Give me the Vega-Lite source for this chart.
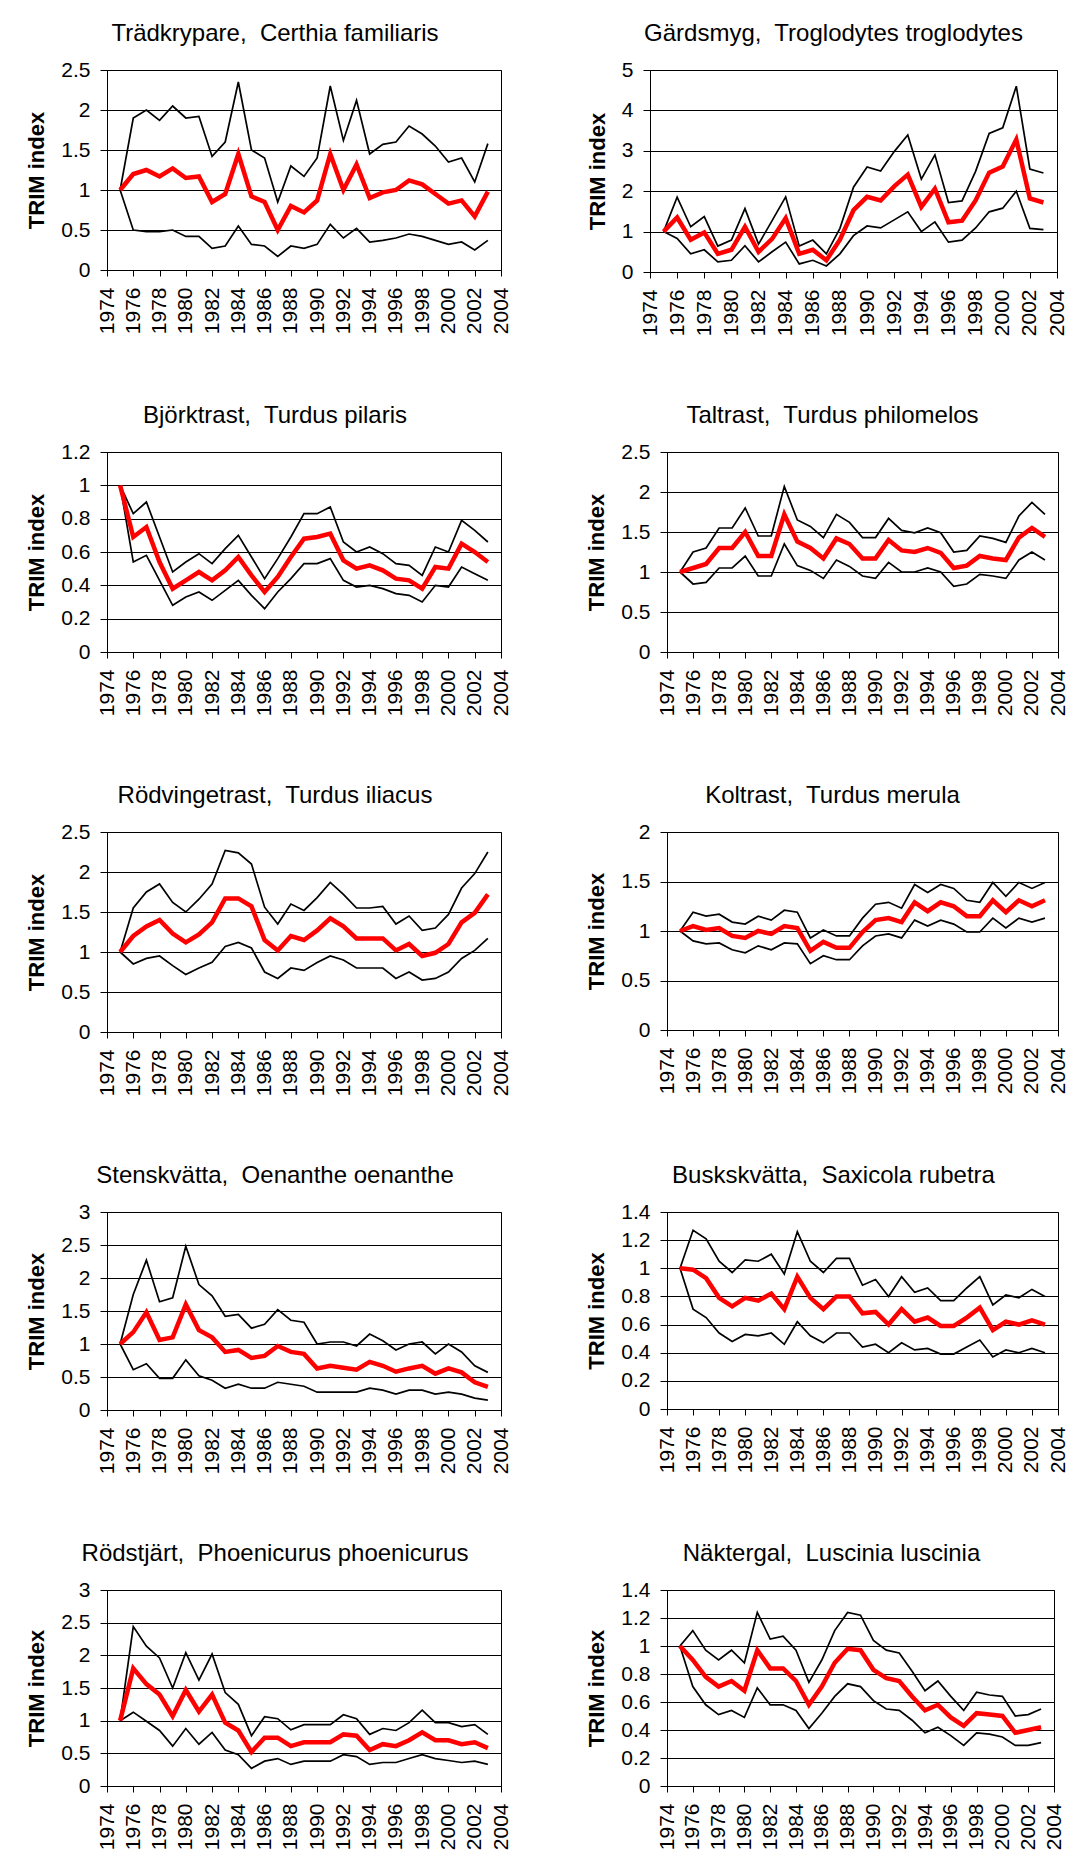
{
"$schema": "https://vega.github.io/schema/vega-lite/v6.json",
"background": "white",
"padding": {"left": 25, "top": 21, "right": 0, "bottom": 0},
"config": {
  "font": "Liberation Sans",
  "view": {"stroke": "black", "strokeWidth": 1},
  "title": {"font": "Liberation Sans", "fontSize": 24, "fontWeight": "normal", "color": "black", "anchor": "middle", "frame": "group", "offset": 13, "baseline": "alphabetic"},
  "axis": {"labelFont": "Liberation Sans", "labelFontSize": 21, "labelColor": "black", "domainColor": "black", "domainWidth": 1, "tickColor": "black", "tickWidth": 1, "titleFont": "Liberation Sans", "titleFontSize": 22, "titleFontWeight": "bold", "titleColor": "black", "labelFlush": false, "labelOverlap": false, "grid": false},
  "axisY": {"grid": true, "gridColor": "black", "gridWidth": 1, "gridOpacity": 1, "tickSize": 7, "labelPadding": 10, "titlePadding": 12},
  "axisX": {"labelAngle": -90, "tickSize": 6, "labelPadding": 11}
},
"datasets": {
"p1": [
{"year":1975,"lower":1.0,"index":1.0,"upper":1.0},{"year":1976,"lower":0.5,"index":1.2,"upper":1.9},{"year":1977,"lower":0.48,"index":1.25,"upper":2.0},{"year":1978,"lower":0.48,"index":1.17,"upper":1.87},{"year":1979,"lower":0.5,"index":1.27,"upper":2.05},{"year":1980,"lower":0.42,"index":1.15,"upper":1.9},{"year":1981,"lower":0.42,"index":1.17,"upper":1.92},{"year":1982,"lower":0.27,"index":0.85,"upper":1.42},{"year":1983,"lower":0.3,"index":0.95,"upper":1.6},{"year":1984,"lower":0.55,"index":1.45,"upper":2.35},{"year":1985,"lower":0.32,"index":0.92,"upper":1.5},{"year":1986,"lower":0.3,"index":0.85,"upper":1.4},{"year":1987,"lower":0.17,"index":0.5,"upper":0.85},{"year":1988,"lower":0.3,"index":0.8,"upper":1.3},{"year":1989,"lower":0.27,"index":0.72,"upper":1.17},{"year":1990,"lower":0.32,"index":0.87,"upper":1.4},{"year":1991,"lower":0.57,"index":1.45,"upper":2.3},{"year":1992,"lower":0.4,"index":1.0,"upper":1.62},{"year":1993,"lower":0.52,"index":1.32,"upper":2.12},{"year":1994,"lower":0.35,"index":0.9,"upper":1.45},{"year":1995,"lower":0.37,"index":0.97,"upper":1.57},{"year":1996,"lower":0.4,"index":1.0,"upper":1.6},{"year":1997,"lower":0.45,"index":1.12,"upper":1.8},{"year":1998,"lower":0.42,"index":1.07,"upper":1.7},{"year":1999,"lower":0.37,"index":0.95,"upper":1.55},{"year":2000,"lower":0.32,"index":0.83,"upper":1.35},{"year":2001,"lower":0.35,"index":0.87,"upper":1.4},{"year":2002,"lower":0.25,"index":0.67,"upper":1.1},{"year":2003,"lower":0.37,"index":0.98,"upper":1.58}
],
"p2": [
{"year":1975,"lower":1.0,"index":1.0,"upper":1.0},{"year":1976,"lower":0.83,"index":1.35,"upper":1.85},{"year":1977,"lower":0.45,"index":0.8,"upper":1.12},{"year":1978,"lower":0.55,"index":0.98,"upper":1.37},{"year":1979,"lower":0.25,"index":0.45,"upper":0.64},{"year":1980,"lower":0.29,"index":0.55,"upper":0.79},{"year":1981,"lower":0.65,"index":1.12,"upper":1.57},{"year":1982,"lower":0.25,"index":0.5,"upper":0.69},{"year":1983,"lower":0.5,"index":0.82,"upper":1.27},{"year":1984,"lower":0.74,"index":1.33,"upper":1.86},{"year":1985,"lower":0.2,"index":0.45,"upper":0.64},{"year":1986,"lower":0.29,"index":0.55,"upper":0.79},{"year":1987,"lower":0.15,"index":0.29,"upper":0.45},{"year":1988,"lower":0.45,"index":0.8,"upper":1.08},{"year":1989,"lower":0.9,"index":1.53,"upper":2.1},{"year":1990,"lower":1.14,"index":1.86,"upper":2.6},{"year":1991,"lower":1.09,"index":1.77,"upper":2.5},{"year":1992,"lower":1.29,"index":2.12,"upper":2.98},{"year":1993,"lower":1.49,"index":2.41,"upper":3.39},{"year":1994,"lower":1.0,"index":1.61,"upper":2.3},{"year":1995,"lower":1.24,"index":2.06,"upper":2.9},{"year":1996,"lower":0.74,"index":1.23,"upper":1.72},{"year":1997,"lower":0.79,"index":1.27,"upper":1.76},{"year":1998,"lower":1.09,"index":1.77,"upper":2.49},{"year":1999,"lower":1.49,"index":2.46,"upper":3.43},{"year":2000,"lower":1.58,"index":2.61,"upper":3.57},{"year":2001,"lower":2.0,"index":3.28,"upper":4.6},{"year":2002,"lower":1.08,"index":1.82,"upper":2.55},{"year":2003,"lower":1.05,"index":1.72,"upper":2.45}
],
"p3": [
{"year":1975,"lower":1.0,"index":1.0,"upper":1.0},{"year":1976,"lower":0.54,"index":0.69,"upper":0.83},{"year":1977,"lower":0.58,"index":0.75,"upper":0.9},{"year":1978,"lower":0.43,"index":0.54,"upper":0.69},{"year":1979,"lower":0.28,"index":0.38,"upper":0.48},{"year":1980,"lower":0.33,"index":0.43,"upper":0.54},{"year":1981,"lower":0.36,"index":0.48,"upper":0.59},{"year":1982,"lower":0.31,"index":0.43,"upper":0.53},{"year":1983,"lower":0.37,"index":0.49,"upper":0.62},{"year":1984,"lower":0.43,"index":0.57,"upper":0.7},{"year":1985,"lower":0.34,"index":0.46,"upper":0.57},{"year":1986,"lower":0.26,"index":0.36,"upper":0.44},{"year":1987,"lower":0.36,"index":0.45,"upper":0.56},{"year":1988,"lower":0.44,"index":0.57,"upper":0.69},{"year":1989,"lower":0.53,"index":0.68,"upper":0.83},{"year":1990,"lower":0.53,"index":0.69,"upper":0.83},{"year":1991,"lower":0.56,"index":0.71,"upper":0.87},{"year":1992,"lower":0.43,"index":0.55,"upper":0.66},{"year":1993,"lower":0.39,"index":0.5,"upper":0.6},{"year":1994,"lower":0.4,"index":0.52,"upper":0.63},{"year":1995,"lower":0.38,"index":0.49,"upper":0.59},{"year":1996,"lower":0.35,"index":0.44,"upper":0.53},{"year":1997,"lower":0.34,"index":0.43,"upper":0.52},{"year":1998,"lower":0.3,"index":0.38,"upper":0.46},{"year":1999,"lower":0.4,"index":0.51,"upper":0.63},{"year":2000,"lower":0.39,"index":0.5,"upper":0.6},{"year":2001,"lower":0.51,"index":0.65,"upper":0.79},{"year":2002,"lower":0.47,"index":0.6,"upper":0.73},{"year":2003,"lower":0.43,"index":0.54,"upper":0.66}
],
"p4": [
{"year":1975,"lower":1.0,"index":1.0,"upper":1.0},{"year":1976,"lower":0.85,"index":1.05,"upper":1.25},{"year":1977,"lower":0.87,"index":1.1,"upper":1.3},{"year":1978,"lower":1.05,"index":1.3,"upper":1.55},{"year":1979,"lower":1.05,"index":1.3,"upper":1.55},{"year":1980,"lower":1.2,"index":1.5,"upper":1.8},{"year":1981,"lower":0.95,"index":1.2,"upper":1.45},{"year":1982,"lower":0.95,"index":1.2,"upper":1.45},{"year":1983,"lower":1.35,"index":1.72,"upper":2.07},{"year":1984,"lower":1.08,"index":1.38,"upper":1.65},{"year":1985,"lower":1.02,"index":1.3,"upper":1.57},{"year":1986,"lower":0.92,"index":1.17,"upper":1.43},{"year":1987,"lower":1.15,"index":1.42,"upper":1.72},{"year":1988,"lower":1.07,"index":1.35,"upper":1.62},{"year":1989,"lower":0.95,"index":1.17,"upper":1.43},{"year":1990,"lower":0.92,"index":1.17,"upper":1.43},{"year":1991,"lower":1.12,"index":1.4,"upper":1.67},{"year":1992,"lower":1.0,"index":1.27,"upper":1.52},{"year":1993,"lower":1.0,"index":1.25,"upper":1.49},{"year":1994,"lower":1.05,"index":1.3,"upper":1.55},{"year":1995,"lower":1.0,"index":1.24,"upper":1.49},{"year":1996,"lower":0.82,"index":1.05,"upper":1.25},{"year":1997,"lower":0.85,"index":1.08,"upper":1.27},{"year":1998,"lower":0.97,"index":1.2,"upper":1.45},{"year":1999,"lower":0.95,"index":1.17,"upper":1.42},{"year":2000,"lower":0.92,"index":1.15,"upper":1.37},{"year":2001,"lower":1.15,"index":1.43,"upper":1.7},{"year":2002,"lower":1.25,"index":1.55,"upper":1.87},{"year":2003,"lower":1.15,"index":1.44,"upper":1.72}
],
"p5": [
{"year":1975,"lower":1.0,"index":1.0,"upper":1.0},{"year":1976,"lower":0.85,"index":1.2,"upper":1.55},{"year":1977,"lower":0.92,"index":1.32,"upper":1.75},{"year":1978,"lower":0.95,"index":1.4,"upper":1.85},{"year":1979,"lower":0.83,"index":1.23,"upper":1.62},{"year":1980,"lower":0.72,"index":1.12,"upper":1.5},{"year":1981,"lower":0.8,"index":1.22,"upper":1.66},{"year":1982,"lower":0.87,"index":1.37,"upper":1.85},{"year":1983,"lower":1.07,"index":1.67,"upper":2.27},{"year":1984,"lower":1.12,"index":1.67,"upper":2.24},{"year":1985,"lower":1.05,"index":1.57,"upper":2.1},{"year":1986,"lower":0.75,"index":1.15,"upper":1.56},{"year":1987,"lower":0.67,"index":1.02,"upper":1.35},{"year":1988,"lower":0.8,"index":1.2,"upper":1.6},{"year":1989,"lower":0.77,"index":1.15,"upper":1.52},{"year":1990,"lower":0.87,"index":1.27,"upper":1.68},{"year":1991,"lower":0.95,"index":1.42,"upper":1.87},{"year":1992,"lower":0.9,"index":1.32,"upper":1.72},{"year":1993,"lower":0.8,"index":1.17,"upper":1.55},{"year":1994,"lower":0.8,"index":1.17,"upper":1.55},{"year":1995,"lower":0.8,"index":1.17,"upper":1.57},{"year":1996,"lower":0.67,"index":1.02,"upper":1.35},{"year":1997,"lower":0.75,"index":1.1,"upper":1.45},{"year":1998,"lower":0.65,"index":0.95,"upper":1.27},{"year":1999,"lower":0.67,"index":0.99,"upper":1.3},{"year":2000,"lower":0.75,"index":1.1,"upper":1.47},{"year":2001,"lower":0.92,"index":1.37,"upper":1.8},{"year":2002,"lower":1.02,"index":1.49,"upper":1.98},{"year":2003,"lower":1.17,"index":1.72,"upper":2.25}
],
"p6": [
{"year":1975,"lower":1.0,"index":1.0,"upper":1.0},{"year":1976,"lower":0.9,"index":1.05,"upper":1.19},{"year":1977,"lower":0.87,"index":1.01,"upper":1.15},{"year":1978,"lower":0.88,"index":1.03,"upper":1.17},{"year":1979,"lower":0.81,"index":0.95,"upper":1.09},{"year":1980,"lower":0.78,"index":0.93,"upper":1.07},{"year":1981,"lower":0.85,"index":1.0,"upper":1.15},{"year":1982,"lower":0.81,"index":0.97,"upper":1.11},{"year":1983,"lower":0.88,"index":1.05,"upper":1.21},{"year":1984,"lower":0.87,"index":1.03,"upper":1.19},{"year":1985,"lower":0.67,"index":0.8,"upper":0.93},{"year":1986,"lower":0.75,"index":0.89,"upper":1.01},{"year":1987,"lower":0.71,"index":0.83,"upper":0.95},{"year":1988,"lower":0.71,"index":0.83,"upper":0.95},{"year":1989,"lower":0.85,"index":0.99,"upper":1.13},{"year":1990,"lower":0.95,"index":1.11,"upper":1.27},{"year":1991,"lower":0.97,"index":1.13,"upper":1.29},{"year":1992,"lower":0.93,"index":1.09,"upper":1.23},{"year":1993,"lower":1.11,"index":1.29,"upper":1.47},{"year":1994,"lower":1.05,"index":1.2,"upper":1.39},{"year":1995,"lower":1.11,"index":1.29,"upper":1.47},{"year":1996,"lower":1.07,"index":1.25,"upper":1.43},{"year":1997,"lower":0.99,"index":1.15,"upper":1.31},{"year":1998,"lower":0.99,"index":1.15,"upper":1.29},{"year":1999,"lower":1.13,"index":1.31,"upper":1.49},{"year":2000,"lower":1.03,"index":1.19,"upper":1.35},{"year":2001,"lower":1.13,"index":1.31,"upper":1.49},{"year":2002,"lower":1.09,"index":1.25,"upper":1.43},{"year":2003,"lower":1.13,"index":1.31,"upper":1.49}
],
"p7": [
{"year":1975,"lower":1.0,"index":1.0,"upper":1.0},{"year":1976,"lower":0.61,"index":1.18,"upper":1.75},{"year":1977,"lower":0.7,"index":1.48,"upper":2.27},{"year":1978,"lower":0.48,"index":1.06,"upper":1.64},{"year":1979,"lower":0.48,"index":1.1,"upper":1.7},{"year":1980,"lower":0.76,"index":1.6,"upper":2.48},{"year":1981,"lower":0.52,"index":1.21,"upper":1.9},{"year":1982,"lower":0.45,"index":1.1,"upper":1.73},{"year":1983,"lower":0.33,"index":0.88,"upper":1.42},{"year":1984,"lower":0.39,"index":0.91,"upper":1.45},{"year":1985,"lower":0.33,"index":0.79,"upper":1.24},{"year":1986,"lower":0.33,"index":0.82,"upper":1.3},{"year":1987,"lower":0.42,"index":0.97,"upper":1.52},{"year":1988,"lower":0.39,"index":0.88,"upper":1.36},{"year":1989,"lower":0.36,"index":0.85,"upper":1.33},{"year":1990,"lower":0.27,"index":0.63,"upper":1.0},{"year":1991,"lower":0.27,"index":0.67,"upper":1.03},{"year":1992,"lower":0.27,"index":0.64,"upper":1.03},{"year":1993,"lower":0.27,"index":0.61,"upper":0.97},{"year":1994,"lower":0.33,"index":0.73,"upper":1.15},{"year":1995,"lower":0.3,"index":0.67,"upper":1.05},{"year":1996,"lower":0.24,"index":0.58,"upper":0.91},{"year":1997,"lower":0.3,"index":0.63,"upper":1.0},{"year":1998,"lower":0.3,"index":0.67,"upper":1.03},{"year":1999,"lower":0.24,"index":0.55,"upper":0.85},{"year":2000,"lower":0.27,"index":0.63,"upper":1.0},{"year":2001,"lower":0.24,"index":0.57,"upper":0.88},{"year":2002,"lower":0.18,"index":0.42,"upper":0.67},{"year":2003,"lower":0.15,"index":0.35,"upper":0.57}
],
"p8": [
{"year":1975,"lower":1.0,"index":1.0,"upper":1.0},{"year":1976,"lower":0.71,"index":0.99,"upper":1.27},{"year":1977,"lower":0.65,"index":0.93,"upper":1.21},{"year":1978,"lower":0.54,"index":0.79,"upper":1.05},{"year":1979,"lower":0.48,"index":0.73,"upper":0.97},{"year":1980,"lower":0.53,"index":0.79,"upper":1.06},{"year":1981,"lower":0.52,"index":0.77,"upper":1.05},{"year":1982,"lower":0.54,"index":0.82,"upper":1.1},{"year":1983,"lower":0.46,"index":0.71,"upper":0.96},{"year":1984,"lower":0.62,"index":0.94,"upper":1.26},{"year":1985,"lower":0.52,"index":0.79,"upper":1.05},{"year":1986,"lower":0.47,"index":0.71,"upper":0.97},{"year":1987,"lower":0.54,"index":0.8,"upper":1.07},{"year":1988,"lower":0.54,"index":0.8,"upper":1.07},{"year":1989,"lower":0.44,"index":0.68,"upper":0.88},{"year":1990,"lower":0.46,"index":0.69,"upper":0.92},{"year":1991,"lower":0.4,"index":0.6,"upper":0.8},{"year":1992,"lower":0.47,"index":0.71,"upper":0.94},{"year":1993,"lower":0.42,"index":0.62,"upper":0.83},{"year":1994,"lower":0.43,"index":0.65,"upper":0.86},{"year":1995,"lower":0.39,"index":0.59,"upper":0.77},{"year":1996,"lower":0.39,"index":0.59,"upper":0.77},{"year":1997,"lower":0.44,"index":0.65,"upper":0.86},{"year":1998,"lower":0.49,"index":0.72,"upper":0.94},{"year":1999,"lower":0.37,"index":0.56,"upper":0.74},{"year":2000,"lower":0.42,"index":0.62,"upper":0.81},{"year":2001,"lower":0.4,"index":0.6,"upper":0.79},{"year":2002,"lower":0.43,"index":0.63,"upper":0.85},{"year":2003,"lower":0.4,"index":0.6,"upper":0.8}
],
"p9": [
{"year":1975,"lower":1.0,"index":1.0,"upper":1.0},{"year":1976,"lower":1.13,"index":1.8,"upper":2.44},{"year":1977,"lower":0.99,"index":1.56,"upper":2.14},{"year":1978,"lower":0.85,"index":1.4,"upper":1.96},{"year":1979,"lower":0.61,"index":1.07,"upper":1.5},{"year":1980,"lower":0.88,"index":1.47,"upper":2.04},{"year":1981,"lower":0.64,"index":1.14,"upper":1.62},{"year":1982,"lower":0.82,"index":1.4,"upper":2.02},{"year":1983,"lower":0.55,"index":0.97,"upper":1.43},{"year":1984,"lower":0.48,"index":0.85,"upper":1.25},{"year":1985,"lower":0.27,"index":0.52,"upper":0.77},{"year":1986,"lower":0.38,"index":0.74,"upper":1.06},{"year":1987,"lower":0.42,"index":0.74,"upper":1.03},{"year":1988,"lower":0.33,"index":0.61,"upper":0.86},{"year":1989,"lower":0.38,"index":0.67,"upper":0.94},{"year":1990,"lower":0.38,"index":0.67,"upper":0.94},{"year":1991,"lower":0.38,"index":0.67,"upper":0.94},{"year":1992,"lower":0.48,"index":0.79,"upper":1.09},{"year":1993,"lower":0.45,"index":0.77,"upper":1.03},{"year":1994,"lower":0.33,"index":0.55,"upper":0.79},{"year":1995,"lower":0.36,"index":0.64,"upper":0.88},{"year":1996,"lower":0.36,"index":0.61,"upper":0.85},{"year":1997,"lower":0.42,"index":0.7,"upper":0.97},{"year":1998,"lower":0.48,"index":0.82,"upper":1.16},{"year":1999,"lower":0.42,"index":0.7,"upper":0.97},{"year":2000,"lower":0.39,"index":0.7,"upper":0.97},{"year":2001,"lower":0.36,"index":0.64,"upper":0.91},{"year":2002,"lower":0.38,"index":0.67,"upper":0.94},{"year":2003,"lower":0.33,"index":0.58,"upper":0.79}
],
"p10": [
{"year":1975,"lower":1.0,"index":1.0,"upper":1.0},{"year":1976,"lower":0.71,"index":0.9,"upper":1.11},{"year":1977,"lower":0.58,"index":0.78,"upper":0.97},{"year":1978,"lower":0.51,"index":0.71,"upper":0.9},{"year":1979,"lower":0.54,"index":0.75,"upper":0.97},{"year":1980,"lower":0.49,"index":0.68,"upper":0.88},{"year":1981,"lower":0.7,"index":0.97,"upper":1.24},{"year":1982,"lower":0.58,"index":0.84,"upper":1.05},{"year":1983,"lower":0.58,"index":0.84,"upper":1.07},{"year":1984,"lower":0.54,"index":0.75,"upper":0.97},{"year":1985,"lower":0.41,"index":0.58,"upper":0.74},{"year":1986,"lower":0.52,"index":0.71,"upper":0.9},{"year":1987,"lower":0.64,"index":0.88,"upper":1.11},{"year":1988,"lower":0.73,"index":0.98,"upper":1.24},{"year":1989,"lower":0.71,"index":0.97,"upper":1.22},{"year":1990,"lower":0.61,"index":0.83,"upper":1.04},{"year":1991,"lower":0.55,"index":0.77,"upper":0.97},{"year":1992,"lower":0.54,"index":0.75,"upper":0.95},{"year":1993,"lower":0.47,"index":0.64,"upper":0.82},{"year":1994,"lower":0.38,"index":0.54,"upper":0.68},{"year":1995,"lower":0.42,"index":0.58,"upper":0.75},{"year":1996,"lower":0.36,"index":0.49,"upper":0.64},{"year":1997,"lower":0.29,"index":0.43,"upper":0.54},{"year":1998,"lower":0.38,"index":0.52,"upper":0.67},{"year":1999,"lower":0.37,"index":0.51,"upper":0.65},{"year":2000,"lower":0.35,"index":0.5,"upper":0.64},{"year":2001,"lower":0.29,"index":0.38,"upper":0.5},{"year":2002,"lower":0.29,"index":0.4,"upper":0.51},{"year":2003,"lower":0.31,"index":0.42,"upper":0.55}
]
},
"spacing": 66,
"vconcat": [
{"spacing": 73, "hconcat": [
 {"width": 394, "height": 200, "data": {"name": "p1"}, "title": {"text": "Trädkrypare,\u00a0 Certhia familiaris", "dx": -29},
  "encoding": {"x": {"field": "year", "type": "quantitative", "scale": {"domain": [1974, 2004], "nice": false, "zero": false}, "axis": {"values": [1974,1976,1978,1980,1982,1984,1986,1988,1990,1992,1994,1996,1998,2000,2002,2004], "format": "d", "title": null}}},
  "layer": [
   {"mark": {"type": "line", "color": "black", "strokeWidth": 1.7}, "encoding": {"y": {"field": "upper", "type": "quantitative", "scale": {"domain": [0, 2.5], "nice": false}, "axis": {"values": [0,0.5,1,1.5,2,2.5], "format": "~g", "title": "TRIM index"}}}},
   {"mark": {"type": "line", "color": "black", "strokeWidth": 1.7}, "encoding": {"y": {"field": "lower", "type": "quantitative", "scale": {"domain": [0, 2.5], "nice": false}, "axis": {"values": [0,0.5,1,1.5,2,2.5], "format": "~g", "title": "TRIM index"}}}},
   {"mark": {"type": "line", "color": "#ff0000", "strokeWidth": 4.5}, "encoding": {"y": {"field": "index", "type": "quantitative", "scale": {"domain": [0, 2.5], "nice": false}, "axis": {"values": [0,0.5,1,1.5,2,2.5], "format": "~g", "title": "TRIM index"}}}}
  ]},
 {"width": 407, "height": 202, "data": {"name": "p2"}, "title": {"text": "Gärdsmyg,\u00a0 Troglodytes troglodytes", "dx": -20},
  "encoding": {"x": {"field": "year", "type": "quantitative", "scale": {"domain": [1974, 2004], "nice": false, "zero": false}, "axis": {"values": [1974,1976,1978,1980,1982,1984,1986,1988,1990,1992,1994,1996,1998,2000,2002,2004], "format": "d", "title": null}}},
  "layer": [
   {"mark": {"type": "line", "color": "black", "strokeWidth": 1.7}, "encoding": {"y": {"field": "upper", "type": "quantitative", "scale": {"domain": [0, 5], "nice": false}, "axis": {"values": [0,1,2,3,4,5], "format": "~g", "title": "TRIM index"}}}},
   {"mark": {"type": "line", "color": "black", "strokeWidth": 1.7}, "encoding": {"y": {"field": "lower", "type": "quantitative", "scale": {"domain": [0, 5], "nice": false}, "axis": {"values": [0,1,2,3,4,5], "format": "~g", "title": "TRIM index"}}}},
   {"mark": {"type": "line", "color": "#ff0000", "strokeWidth": 4.5}, "encoding": {"y": {"field": "index", "type": "quantitative", "scale": {"domain": [0, 5], "nice": false}, "axis": {"values": [0,1,2,3,4,5], "format": "~g", "title": "TRIM index"}}}}
  ]}
]},
{"spacing": 73, "hconcat": [
 {"width": 394, "height": 200, "data": {"name": "p3"}, "title": {"text": "Björktrast,\u00a0 Turdus pilaris", "dx": -29},
  "encoding": {"x": {"field": "year", "type": "quantitative", "scale": {"domain": [1974, 2004], "nice": false, "zero": false}, "axis": {"values": [1974,1976,1978,1980,1982,1984,1986,1988,1990,1992,1994,1996,1998,2000,2002,2004], "format": "d", "title": null}}},
  "layer": [
   {"mark": {"type": "line", "color": "black", "strokeWidth": 1.7}, "encoding": {"y": {"field": "upper", "type": "quantitative", "scale": {"domain": [0, 1.2], "nice": false}, "axis": {"values": [0,0.2,0.4,0.6,0.8,1,1.2], "format": "~g", "title": "TRIM index"}}}},
   {"mark": {"type": "line", "color": "black", "strokeWidth": 1.7}, "encoding": {"y": {"field": "lower", "type": "quantitative", "scale": {"domain": [0, 1.2], "nice": false}, "axis": {"values": [0,0.2,0.4,0.6,0.8,1,1.2], "format": "~g", "title": "TRIM index"}}}},
   {"mark": {"type": "line", "color": "#ff0000", "strokeWidth": 4.5}, "encoding": {"y": {"field": "index", "type": "quantitative", "scale": {"domain": [0, 1.2], "nice": false}, "axis": {"values": [0,0.2,0.4,0.6,0.8,1,1.2], "format": "~g", "title": "TRIM index"}}}}
  ]},
 {"width": 391, "height": 200, "data": {"name": "p4"}, "title": {"text": "Taltrast,\u00a0 Turdus philomelos", "dx": -30},
  "encoding": {"x": {"field": "year", "type": "quantitative", "scale": {"domain": [1974, 2004], "nice": false, "zero": false}, "axis": {"values": [1974,1976,1978,1980,1982,1984,1986,1988,1990,1992,1994,1996,1998,2000,2002,2004], "format": "d", "title": null}}},
  "layer": [
   {"mark": {"type": "line", "color": "black", "strokeWidth": 1.7}, "encoding": {"y": {"field": "upper", "type": "quantitative", "scale": {"domain": [0, 2.5], "nice": false}, "axis": {"values": [0,0.5,1,1.5,2,2.5], "format": "~g", "title": "TRIM index"}}}},
   {"mark": {"type": "line", "color": "black", "strokeWidth": 1.7}, "encoding": {"y": {"field": "lower", "type": "quantitative", "scale": {"domain": [0, 2.5], "nice": false}, "axis": {"values": [0,0.5,1,1.5,2,2.5], "format": "~g", "title": "TRIM index"}}}},
   {"mark": {"type": "line", "color": "#ff0000", "strokeWidth": 4.5}, "encoding": {"y": {"field": "index", "type": "quantitative", "scale": {"domain": [0, 2.5], "nice": false}, "axis": {"values": [0,0.5,1,1.5,2,2.5], "format": "~g", "title": "TRIM index"}}}}
  ]}
]},
{"spacing": 73, "hconcat": [
 {"width": 394, "height": 200, "data": {"name": "p5"}, "title": {"text": "Rödvingetrast,\u00a0 Turdus iliacus", "dx": -29},
  "encoding": {"x": {"field": "year", "type": "quantitative", "scale": {"domain": [1974, 2004], "nice": false, "zero": false}, "axis": {"values": [1974,1976,1978,1980,1982,1984,1986,1988,1990,1992,1994,1996,1998,2000,2002,2004], "format": "d", "title": null}}},
  "layer": [
   {"mark": {"type": "line", "color": "black", "strokeWidth": 1.7}, "encoding": {"y": {"field": "upper", "type": "quantitative", "scale": {"domain": [0, 2.5], "nice": false}, "axis": {"values": [0,0.5,1,1.5,2,2.5], "format": "~g", "title": "TRIM index"}}}},
   {"mark": {"type": "line", "color": "black", "strokeWidth": 1.7}, "encoding": {"y": {"field": "lower", "type": "quantitative", "scale": {"domain": [0, 2.5], "nice": false}, "axis": {"values": [0,0.5,1,1.5,2,2.5], "format": "~g", "title": "TRIM index"}}}},
   {"mark": {"type": "line", "color": "#ff0000", "strokeWidth": 4.5}, "encoding": {"y": {"field": "index", "type": "quantitative", "scale": {"domain": [0, 2.5], "nice": false}, "axis": {"values": [0,0.5,1,1.5,2,2.5], "format": "~g", "title": "TRIM index"}}}}
  ]},
 {"width": 391, "height": 198, "data": {"name": "p6"}, "title": {"text": "Koltrast,\u00a0 Turdus merula", "dx": -30},
  "encoding": {"x": {"field": "year", "type": "quantitative", "scale": {"domain": [1974, 2004], "nice": false, "zero": false}, "axis": {"values": [1974,1976,1978,1980,1982,1984,1986,1988,1990,1992,1994,1996,1998,2000,2002,2004], "format": "d", "title": null}}},
  "layer": [
   {"mark": {"type": "line", "color": "black", "strokeWidth": 1.7}, "encoding": {"y": {"field": "upper", "type": "quantitative", "scale": {"domain": [0, 2], "nice": false}, "axis": {"values": [0,0.5,1,1.5,2], "format": "~g", "title": "TRIM index"}}}},
   {"mark": {"type": "line", "color": "black", "strokeWidth": 1.7}, "encoding": {"y": {"field": "lower", "type": "quantitative", "scale": {"domain": [0, 2], "nice": false}, "axis": {"values": [0,0.5,1,1.5,2], "format": "~g", "title": "TRIM index"}}}},
   {"mark": {"type": "line", "color": "#ff0000", "strokeWidth": 4.5}, "encoding": {"y": {"field": "index", "type": "quantitative", "scale": {"domain": [0, 2], "nice": false}, "axis": {"values": [0,0.5,1,1.5,2], "format": "~g", "title": "TRIM index"}}}}
  ]}
]},
{"spacing": 73, "hconcat": [
 {"width": 394, "height": 198, "data": {"name": "p7"}, "title": {"text": "Stenskvätta,\u00a0 Oenanthe oenanthe", "dx": -29},
  "encoding": {"x": {"field": "year", "type": "quantitative", "scale": {"domain": [1974, 2004], "nice": false, "zero": false}, "axis": {"values": [1974,1976,1978,1980,1982,1984,1986,1988,1990,1992,1994,1996,1998,2000,2002,2004], "format": "d", "title": null}}},
  "layer": [
   {"mark": {"type": "line", "color": "black", "strokeWidth": 1.7}, "encoding": {"y": {"field": "upper", "type": "quantitative", "scale": {"domain": [0, 3], "nice": false}, "axis": {"values": [0,0.5,1,1.5,2,2.5,3], "format": "~g", "title": "TRIM index"}}}},
   {"mark": {"type": "line", "color": "black", "strokeWidth": 1.7}, "encoding": {"y": {"field": "lower", "type": "quantitative", "scale": {"domain": [0, 3], "nice": false}, "axis": {"values": [0,0.5,1,1.5,2,2.5,3], "format": "~g", "title": "TRIM index"}}}},
   {"mark": {"type": "line", "color": "#ff0000", "strokeWidth": 4.5}, "encoding": {"y": {"field": "index", "type": "quantitative", "scale": {"domain": [0, 3], "nice": false}, "axis": {"values": [0,0.5,1,1.5,2,2.5,3], "format": "~g", "title": "TRIM index"}}}}
  ]},
 {"width": 391, "height": 197, "data": {"name": "p8"}, "title": {"text": "Buskskvätta,\u00a0 Saxicola rubetra", "dx": -29},
  "encoding": {"x": {"field": "year", "type": "quantitative", "scale": {"domain": [1974, 2004], "nice": false, "zero": false}, "axis": {"values": [1974,1976,1978,1980,1982,1984,1986,1988,1990,1992,1994,1996,1998,2000,2002,2004], "format": "d", "title": null}}},
  "layer": [
   {"mark": {"type": "line", "color": "black", "strokeWidth": 1.7}, "encoding": {"y": {"field": "upper", "type": "quantitative", "scale": {"domain": [0, 1.4], "nice": false}, "axis": {"values": [0,0.2,0.4,0.6,0.8,1,1.2,1.4], "format": "~g", "title": "TRIM index"}}}},
   {"mark": {"type": "line", "color": "black", "strokeWidth": 1.7}, "encoding": {"y": {"field": "lower", "type": "quantitative", "scale": {"domain": [0, 1.4], "nice": false}, "axis": {"values": [0,0.2,0.4,0.6,0.8,1,1.2,1.4], "format": "~g", "title": "TRIM index"}}}},
   {"mark": {"type": "line", "color": "#ff0000", "strokeWidth": 4.5}, "encoding": {"y": {"field": "index", "type": "quantitative", "scale": {"domain": [0, 1.4], "nice": false}, "axis": {"values": [0,0.2,0.4,0.6,0.8,1,1.2,1.4], "format": "~g", "title": "TRIM index"}}}}
  ]}
]},
{"spacing": 73, "hconcat": [
 {"width": 394, "height": 196, "data": {"name": "p9"}, "title": {"text": "Rödstjärt,\u00a0 Phoenicurus phoenicurus", "dx": -29},
  "encoding": {"x": {"field": "year", "type": "quantitative", "scale": {"domain": [1974, 2004], "nice": false, "zero": false}, "axis": {"values": [1974,1976,1978,1980,1982,1984,1986,1988,1990,1992,1994,1996,1998,2000,2002,2004], "format": "d", "title": null}}},
  "layer": [
   {"mark": {"type": "line", "color": "black", "strokeWidth": 1.7}, "encoding": {"y": {"field": "upper", "type": "quantitative", "scale": {"domain": [0, 3], "nice": false}, "axis": {"values": [0,0.5,1,1.5,2,2.5,3], "format": "~g", "title": "TRIM index"}}}},
   {"mark": {"type": "line", "color": "black", "strokeWidth": 1.7}, "encoding": {"y": {"field": "lower", "type": "quantitative", "scale": {"domain": [0, 3], "nice": false}, "axis": {"values": [0,0.5,1,1.5,2,2.5,3], "format": "~g", "title": "TRIM index"}}}},
   {"mark": {"type": "line", "color": "#ff0000", "strokeWidth": 4.5}, "encoding": {"y": {"field": "index", "type": "quantitative", "scale": {"domain": [0, 3], "nice": false}, "axis": {"values": [0,0.5,1,1.5,2,2.5,3], "format": "~g", "title": "TRIM index"}}}}
  ]},
 {"width": 387, "height": 196, "data": {"name": "p10"}, "title": {"text": "Näktergal,\u00a0 Luscinia luscinia", "dx": -29},
  "encoding": {"x": {"field": "year", "type": "quantitative", "scale": {"domain": [1974, 2004], "nice": false, "zero": false}, "axis": {"values": [1974,1976,1978,1980,1982,1984,1986,1988,1990,1992,1994,1996,1998,2000,2002,2004], "format": "d", "title": null}}},
  "layer": [
   {"mark": {"type": "line", "color": "black", "strokeWidth": 1.7}, "encoding": {"y": {"field": "upper", "type": "quantitative", "scale": {"domain": [0, 1.4], "nice": false}, "axis": {"values": [0,0.2,0.4,0.6,0.8,1,1.2,1.4], "format": "~g", "title": "TRIM index"}}}},
   {"mark": {"type": "line", "color": "black", "strokeWidth": 1.7}, "encoding": {"y": {"field": "lower", "type": "quantitative", "scale": {"domain": [0, 1.4], "nice": false}, "axis": {"values": [0,0.2,0.4,0.6,0.8,1,1.2,1.4], "format": "~g", "title": "TRIM index"}}}},
   {"mark": {"type": "line", "color": "#ff0000", "strokeWidth": 4.5}, "encoding": {"y": {"field": "index", "type": "quantitative", "scale": {"domain": [0, 1.4], "nice": false}, "axis": {"values": [0,0.2,0.4,0.6,0.8,1,1.2,1.4], "format": "~g", "title": "TRIM index"}}}}
  ]}
]}
]
}
